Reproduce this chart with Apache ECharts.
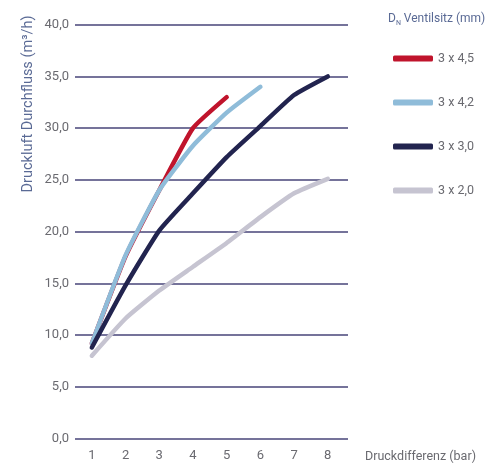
<!DOCTYPE html>
<html><head><meta charset="utf-8">
<script src="https://cdn.jsdelivr.net/npm/echarts@6/dist/echarts.min.js"></script>
<style>html,body{margin:0;padding:0;background:#fff}#c{width:490px;height:465px}</style>
</head><body><div id="c"></div>
<script>
const FONT = "'Roboto', sans-serif";
const seriesNames = ['3 x 4,5', '3 x 4,2', '3 x 3,0', '3 x 2,0'];
const seriesColors = ['#c0142c', '#8fbcd9', '#22244f', '#c6c4d1'];
const seriesZ = [3, 4, 5, 2];
const xRed = [1, 2, 3, 4, 5];
const yRed = [9.2, 17.6, 24.0, 30.0, 33.0];
const xBlue = [1, 2, 3, 4, 5, 6];
const yBlue = [9.2, 17.7, 24.0, 28.3, 31.5, 34.0];
const xNavy = [1, 2, 3, 4, 5, 6, 7, 8];
const yNavy = [8.8, 14.8, 20.1, 23.7, 27.2, 30.2, 33.2, 35.0];
const xGray = [1, 2, 3, 4, 5, 6, 7, 8];
const yGray = [8.0, 11.6, 14.3, 16.6, 18.9, 21.4, 23.7, 25.1];
const yTicks = [0, 5, 10, 15, 20, 25, 30, 35, 40];

const pairs = (xs, ys) => xs.map((x, i) => [x, ys[i]]);
const allData = [pairs(xRed, yRed), pairs(xBlue, yBlue), pairs(xNavy, yNavy), pairs(xGray, yGray)];

const chart = echarts.init(document.getElementById('c'), null, {renderer: 'canvas'});
chart.setOption({
  animation: false,
  grid: {left: 75, right: 142, top: 24.7, bottom: 26.5},
  xAxis: {
    type: 'value', min: 0.5, max: 8.6, interval: 0.5,
    axisLine: {show: false}, axisTick: {show: false}, splitLine: {show: false},
    axisLabel: {
      color: '#6a6a70', fontSize: 13, fontFamily: FONT, margin: 11,
      formatter: v => Number.isInteger(v) ? String(v) : ''
    }
  },
  yAxis: {
    type: 'value', min: 0, max: 40, interval: 5,
    axisLine: {show: false}, axisTick: {show: false},
    splitLine: {lineStyle: {color: '#75739a', width: 2}},
    axisLabel: {
      color: '#6a6a70', fontSize: 13, fontFamily: FONT, margin: 6,
      formatter: v => v.toFixed(1).replace('.', ',')
    }
  },
  legend: {
    orient: 'vertical', left: 388, top: 47, itemWidth: 40, itemHeight: 6,
    itemGap: 31, icon: 'roundRect',
    textStyle: {color: '#6a6a70', fontSize: 12.5, fontFamily: FONT},
    data: seriesNames
  },
  graphic: [
    {type: 'text', left: 388, top: 13, style: {
      rich: {
        a: {fontSize: 12, fill: '#5a6a95', fontFamily: FONT},
        s: {fontSize: 7, fill: '#5a6a95', fontFamily: FONT, padding: [8, 0, 0, 0]}
      },
      text: '{a|D}{s|N}{a| Ventilsitz (mm)}'
    }},
    {type: 'text', x: 28, y: 104, rotation: Math.PI / 2, style: {
      text: 'Druckluft Durchfluss (m³/h)', fill: '#5a6a95', fontSize: 14.5,
      fontFamily: FONT, align: 'center', verticalAlign: 'middle'
    }},
    {type: 'text', x: 365, y: 457, style: {
      text: 'Druckdifferenz (bar)', fill: '#6a6a70', fontSize: 12.5,
      fontFamily: FONT, align: 'left', verticalAlign: 'middle'
    }}
  ],
  series: seriesNames.map((n, i) => ({
    name: n, type: 'line', data: allData[i], showSymbol: false, smooth: 0.15,
    z: seriesZ[i],
    lineStyle: {color: seriesColors[i], width: 4.5, cap: 'round', join: 'round'},
    itemStyle: {color: seriesColors[i]}
  }))
});
</script></body></html>
